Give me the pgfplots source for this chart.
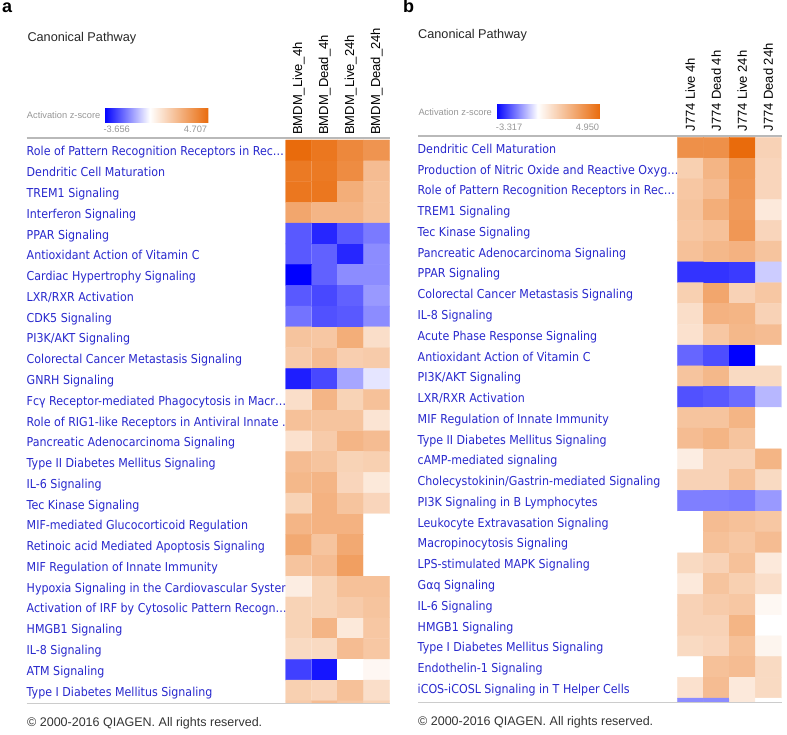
\documentclass[border=0pt]{standalone}
\usepackage{pgfplots}
\pgfplotsset{compat=1.18}
\usepackage{fontspec}
\setmainfont{Liberation Sans}
\newfontfamily\rowfont[FakeStretch=0.9]{DejaVu Sans}
\definecolor{rowblue}{RGB}{40,40,205}
\definecolor{lgray}{RGB}{150,150,150}

% blue - white - orange, white at z = 0
\pgfplotsset{
  colormap={bwoA}{rgb255(0pt)=(0,0,255) rgb255(3656pt)=(255,255,255) rgb255(8363pt)=(233,107,12)},
  colormap={bwoB}{rgb255(0pt)=(0,0,255) rgb255(3317pt)=(255,255,255) rgb255(8267pt)=(233,107,12)},
  heat/.style={
    anchor=south west, scale only axis, width=104pt,
    xmin=-0.5, xmax=3.5, ymin=-0.5, y dir=reverse,
    axis line style={draw=none}, tick style={draw=none},
    xtick={0,1,2,3}, xticklabel pos=right,
    xticklabel style={rotate=90, anchor=west, inner sep=0pt, font=\fontsize{13}{13}\selectfont},
    ytick={0,...,26},
    yticklabel style={anchor=base west, inner sep=0pt, yshift=-5.6pt,
      font=\rowfont\fontsize{12.3}{12.3}\selectfont, text=rowblue},
    colorbar horizontal,
  },
}

\begin{document}
\begin{tikzpicture}
\useasboundingbox (0,0) rectangle (787pt,735pt);

% ---------- panel a ----------
\begin{axis}[heat,
  at={(285.7pt,32.5pt)}, height=562.5pt, ymax=26.58,
  xticklabel shift=5pt,
  xticklabels={BMDM\_Live\_4h,BMDM\_Dead\_4h,BMDM\_Live\_24h,BMDM\_Dead\_24h},
  yticklabels={Role of Pattern Recognition Receptors in Rec…,Dendritic Cell Maturation,TREM1 Signaling,Interferon Signaling,PPAR Signaling,Antioxidant Action of Vitamin C,Cardiac Hypertrophy Signaling,LXR/RXR Activation,CDK5 Signaling,PI3K/AKT Signaling,Colorectal Cancer Metastasis Signaling,GNRH Signaling,Fcγ Receptor-mediated Phagocytosis in Macr…,Role of RIG1-like Receptors in Antiviral Innate .,Pancreatic Adenocarcinoma Signaling,Type II Diabetes Mellitus Signaling,IL-6 Signaling,Tec Kinase Signaling,MIF-mediated Glucocorticoid Regulation,Retinoic acid Mediated Apoptosis Signaling,MIF Regulation of Innate Immunity,Hypoxia Signaling in the Cardiovascular System,Activation of IRF by Cytosolic Pattern Recogn…,HMGB1 Signaling,IL-8 Signaling,ATM Signaling,Type I Diabetes Mellitus Signaling},
  yticklabel style={xshift=-259.2pt},
  colormap name=bwoA, point meta min=-3.656, point meta max=4.707,
  colorbar style={at={(parent axis.north west)}, anchor=south west,
    xshift=-181.4pt, yshift=26pt, scale only axis, width=104pt, height=15pt,
    xtick=\empty, ytick=\empty, axis line style={draw=none}},
]
\addplot[matrix plot*, mesh/cols=4, point meta=explicit] table[row sep=\\, meta=z]{
x y z\\
0 0 4.71\\ 1 0 4.33\\ 2 0 3.77\\ 3 0 3.39\\
0 1 4.24\\ 1 1 4.24\\ 2 1 3.67\\ 3 1 2.12\\
0 2 4.33\\ 1 2 4.33\\ 2 2 2.59\\ 3 2 1.98\\
0 3 2.82\\ 1 3 2.35\\ 2 3 2.35\\ 3 3 1.98\\
0 4 -2.38\\ 1 4 -3.11\\ 2 4 -2.38\\ 3 4 -1.90\\
0 5 -2.38\\ 1 5 -2.27\\ 2 5 -3.11\\ 3 5 -1.65\\
0 6 -3.656\\ 1 6 -2.27\\ 2 6 -1.65\\ 3 6 -1.65\\
0 7 -2.38\\ 1 7 -2.63\\ 2 7 -2.27\\ 3 7 -1.46\\
0 8 -2.01\\ 1 8 -2.49\\ 2 8 -2.38\\ 3 8 -1.65\\
0 9 1.88\\ 1 9 1.79\\ 2 9 2.59\\ 3 9 1.04\\
0 10 1.65\\ 1 10 2.12\\ 2 10 1.55\\ 3 10 1.65\\
0 11 -3.22\\ 1 11 -2.63\\ 2 11 -1.28\\ 3 11 -0.37\\
0 12 1.04\\ 1 12 2.35\\ 2 12 1.41\\ 3 12 1.98\\
0 13 1.98\\ 1 13 1.88\\ 2 13 1.88\\ 3 13 0.85\\
0 14 0.94\\ 1 14 1.65\\ 2 14 2.35\\ 3 14 2.12\\
0 15 2.12\\ 1 15 1.88\\ 2 15 1.41\\ 3 15 1.51\\
0 16 2.26\\ 1 16 2.35\\ 2 16 1.32\\ 3 16 0.71\\
0 17 1.41\\ 1 17 2.45\\ 2 17 1.88\\ 3 17 1.32\\
0 18 2.35\\ 1 18 2.45\\ 2 18 2.45\\ 3 18 0\\
0 19 2.73\\ 1 19 1.88\\ 2 19 2.73\\ 3 19 0\\
0 20 1.88\\ 1 20 2.12\\ 2 20 3.06\\ 3 20 0\\
0 21 0.56\\ 1 21 1.41\\ 2 21 1.98\\ 3 21 1.98\\
0 22 1.41\\ 1 22 1.41\\ 2 22 1.65\\ 3 22 1.88\\
0 23 1.41\\ 1 23 2.35\\ 2 23 0.71\\ 3 23 1.79\\
0 24 1.18\\ 1 24 1.18\\ 2 24 2.12\\ 3 24 1.79\\
0 25 -2.74\\ 1 25 -3.36\\ 2 25 0\\ 3 25 0.24\\
0 26 1.51\\ 1 26 1.32\\ 2 26 1.98\\ 3 26 1.04\\
0 27 1.65\\ 1 27 2.12\\ 2 27 1.79\\ 3 27 1.41\\
};
\end{axis}

% ---------- panel b ----------
\begin{axis}[heat,
  at={(677.3pt,33.3pt)}, height=564.4pt, ymax=26.67,
  xticklabel shift=5.6pt,
  xticklabels={J774 Live 4h,J774 Dead 4h,J774 Live 24h,J774 Dead 24h},
  yticklabels={Dendritic Cell Maturation,Production of Nitric Oxide and Reactive Oxyg…,Role of Pattern Recognition Receptors in Rec…,TREM1 Signaling,Tec Kinase Signaling,Pancreatic Adenocarcinoma Signaling,PPAR Signaling,Colorectal Cancer Metastasis Signaling,IL-8 Signaling,Acute Phase Response Signaling,Antioxidant Action of Vitamin C,PI3K/AKT Signaling,LXR/RXR Activation,MIF Regulation of Innate Immunity,Type II Diabetes Mellitus Signaling,cAMP-mediated signaling,Cholecystokinin/Gastrin-mediated Signaling,PI3K Signaling in B Lymphocytes,Leukocyte Extravasation Signaling,Macropinocytosis Signaling,LPS-stimulated MAPK Signaling,Gαq Signaling,IL-6 Signaling,HMGB1 Signaling,Type I Diabetes Mellitus Signaling,Endothelin-1 Signaling,iCOS-iCOSL Signaling in T Helper Cells},
  yticklabel style={xshift=-259.8pt},
  colormap name=bwoB, point meta min=-3.317, point meta max=4.950,
  colorbar style={at={(parent axis.north west)}, anchor=south west,
    xshift=-181.3pt, yshift=27pt, scale only axis, width=104pt, height=16pt,
    xtick=\empty, ytick=\empty, axis line style={draw=none}},
]
\addplot[matrix plot*, mesh/cols=4, point meta=explicit] table[row sep=\\, meta=z]{
x y z\\
0 0 3.71\\ 1 0 3.71\\ 2 0 4.95\\ 3 0 1.49\\
0 1 1.58\\ 1 1 2.48\\ 2 1 3.56\\ 3 1 1.39\\
0 2 1.88\\ 1 2 2.23\\ 2 2 3.47\\ 3 2 1.39\\
0 3 1.98\\ 1 3 2.72\\ 2 3 3.37\\ 3 3 0.74\\
0 4 1.88\\ 1 4 2.08\\ 2 4 3.47\\ 3 4 1.39\\
0 5 2.08\\ 1 5 2.38\\ 2 5 2.57\\ 3 5 1.98\\
0 6 -2.65\\ 1 6 -2.65\\ 2 6 -2.55\\ 3 6 -0.66\\
0 7 1.58\\ 1 7 2.97\\ 2 7 1.49\\ 3 7 1.88\\
0 8 1.09\\ 1 8 2.57\\ 2 8 2.48\\ 3 8 1.49\\
0 9 0.99\\ 1 9 1.88\\ 2 9 2.38\\ 3 9 2.23\\
0 10 -1.99\\ 1 10 -2.32\\ 2 10 -3.317\\ 3 10 0\\
0 11 1.98\\ 1 11 2.38\\ 2 11 1.24\\ 3 11 1.24\\
0 12 -2.26\\ 1 12 -2.16\\ 2 12 -1.92\\ 3 12 -0.93\\
0 13 1.98\\ 1 13 1.98\\ 2 13 2.48\\ 3 13 0\\
0 14 2.23\\ 1 14 2.48\\ 2 14 1.98\\ 3 14 0\\
0 15 0.59\\ 1 15 1.49\\ 2 15 1.49\\ 3 15 2.48\\
0 16 1.49\\ 1 16 1.49\\ 2 16 2.08\\ 3 16 1.24\\
0 17 -1.66\\ 1 17 -1.66\\ 2 17 -1.72\\ 3 17 -1.33\\
0 18 0\\ 1 18 2.23\\ 2 18 2.08\\ 3 18 1.88\\
0 19 0\\ 1 19 2.08\\ 2 19 1.88\\ 3 19 2.23\\
0 20 1.24\\ 1 20 1.49\\ 2 20 2.08\\ 3 20 0.74\\
0 21 0.74\\ 1 21 1.98\\ 2 21 1.58\\ 3 21 1.09\\
0 22 1.49\\ 1 22 1.73\\ 2 22 1.88\\ 3 22 0.25\\
0 23 1.49\\ 1 23 1.49\\ 2 23 2.48\\ 3 23 0\\
0 24 1.24\\ 1 24 1.39\\ 2 24 2.08\\ 3 24 0.35\\
0 25 0\\ 1 25 2.08\\ 2 25 2.23\\ 3 25 1.24\\
0 26 0.99\\ 1 26 2.23\\ 2 26 0.74\\ 3 26 1.24\\
0 27 -1.49\\ 1 27 -1.49\\ 2 27 0.74\\ 3 27 0\\
};
\end{axis}

% rules above and below the tables
\draw[gray!55, line width=2pt] (26.7pt,596.7pt) -- (389.7pt,596.7pt);
\draw[gray!55, line width=2pt] (418.3pt,599pt) -- (781.5pt,599pt);
\draw[gray!40, line width=1pt] (26.7pt,31pt) -- (389.7pt,31pt);
\draw[gray!40, line width=1pt] (418.3pt,32.3pt) -- (781.5pt,32.3pt);

% texts
\node[anchor=base west, inner sep=0pt, font=\bfseries\fontsize{18}{18}\selectfont] at (2pt,722pt) {a};
\node[anchor=base west, inner sep=0pt, font=\bfseries\fontsize{18}{18}\selectfont] at (403pt,722pt) {b};
\node[anchor=base west, inner sep=0pt, font=\fontsize{12.7}{12.7}\selectfont, text=black!85] at (27.3pt,693.3pt) {Canonical Pathway};
\node[anchor=base west, inner sep=0pt, font=\fontsize{12.7}{12.7}\selectfont, text=black!85] at (418pt,696.7pt) {Canonical Pathway};
\node[anchor=base west, inner sep=0pt, font=\fontsize{9.3}{9.3}\selectfont, text=lgray] at (26.7pt,616.5pt) {Activation z-score};
\node[anchor=base west, inner sep=0pt, font=\fontsize{9.3}{9.3}\selectfont, text=lgray] at (418.3pt,619.5pt) {Activation z-score};
\node[anchor=base west, inner sep=0pt, font=\fontsize{9.3}{9.3}\selectfont, text=lgray] at (103.3pt,602pt) {-3.656};
\node[anchor=base east, inner sep=0pt, font=\fontsize{9.3}{9.3}\selectfont, text=lgray] at (207.3pt,602pt) {4.707};
\node[anchor=base west, inner sep=0pt, font=\fontsize{9.3}{9.3}\selectfont, text=lgray] at (495.7pt,604.3pt) {-3.317};
\node[anchor=base east, inner sep=0pt, font=\fontsize{9.3}{9.3}\selectfont, text=lgray] at (599.3pt,604.3pt) {4.950};
\node[anchor=base west, inner sep=0pt, font=\fontsize{12.5}{12.5}\selectfont, text=black!80] at (27pt,8pt) {© 2000-2016 QIAGEN. All rights reserved.};
\node[anchor=base west, inner sep=0pt, font=\fontsize{12.5}{12.5}\selectfont, text=black!80] at (418pt,9pt) {© 2000-2016 QIAGEN. All rights reserved.};
\end{tikzpicture}
\end{document}
